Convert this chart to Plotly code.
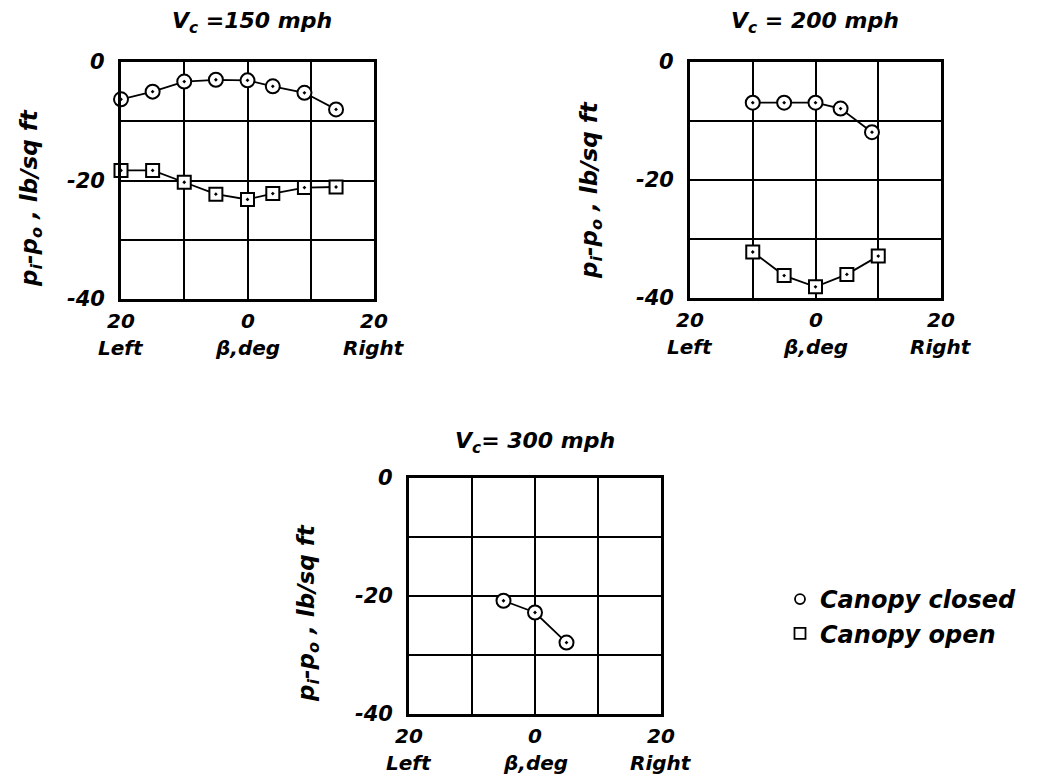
import plotly.graph_objects as go

# ---- data (beta in deg; negative = left side) ----
beta_150_closed = [-20, -15, -10, -5, 0, 4, 9, 14]
p_150_closed = [-6.3, -5.0, -3.3, -3.0, -3.1, -4.1, -5.2, -8.0]
beta_150_open = [-20, -15, -10, -5, 0, 4, 9, 14]
p_150_open = [-18.3, -18.3, -20.3, -22.3, -23.2, -22.2, -21.2, -21.1]

beta_200_closed = [-10, -5, 0, 4, 9]
p_200_closed = [-6.9, -6.9, -6.9, -7.9, -11.9]
beta_200_open = [-10, -5, 0, 5, 10]
p_200_open = [-32.2, -36.2, -38.1, -36.0, -32.9]

beta_300_closed = [-5, 0, 5]
p_300_closed = [-20.8, -22.8, -27.9]

titles = ["V<sub>c</sub> =150 mph", "V<sub>c</sub> = 200 mph", "V<sub>c</sub>= 300 mph"]
x_tickvals = [-20, 0, 20]
x_ticktext = ["20", "0", "20"]
x_subtext = ["Left", "β,deg", "Right"]
x_gridvals = [-10, 10]
y_tickvals = [0, -20, -40]
y_ticktext = ["0", "-20", "-40"]
y_gridvals = [-10, -30]
ytitle = "p<sub>i</sub>-p<sub>o</sub> , lb/sq ft"
legend_names = ["Canopy closed", "Canopy open"]

FONT = "DejaVu Sans"
# the page places the figure 8px in from the top-left corner
OFF = 8
W, H = 1056 - OFF, 778 - OFF

def fx(px):
    return (px - OFF) / W

def fy(py):
    return 1 - (py - OFF) / H

domains = [
    ([fx(121), fx(374)], [fy(299), fy(62)]),
    ([fx(690), fx(941)], [fy(298), fy(62)]),
    ([fx(409), fx(661)], [fy(714), fy(478)]),
]

fig = go.Figure()

closed_style = dict(symbol="circle-dot", size=14, color="white",
                    line=dict(color="black", width=2))
open_style = dict(symbol="square-dot", size=13, color="white",
                  line=dict(color="black", width=2))
line_style = dict(color="black", width=1.8)

series = [
    (beta_150_closed, p_150_closed, closed_style, 1),
    (beta_150_open, p_150_open, open_style, 1),
    (beta_200_closed, p_200_closed, closed_style, 2),
    (beta_200_open, p_200_open, open_style, 2),
    (beta_300_closed, p_300_closed, closed_style, 3),
]
for xs, ys, mk, k in series:
    fig.add_trace(go.Scatter(
        x=xs, y=ys, mode="lines+markers", marker=mk, line=line_style,
        xaxis="x" if k == 1 else f"x{k}", yaxis="y" if k == 1 else f"y{k}",
        showlegend=False, cliponaxis=False))

# legend-only entries
fig.add_trace(go.Scatter(x=[None], y=[None], mode="markers", name=legend_names[0],
                         marker=dict(symbol="circle-open", size=10, color="black",
                                     line=dict(width=1.8))))
fig.add_trace(go.Scatter(x=[None], y=[None], mode="markers", name=legend_names[1],
                         marker=dict(symbol="square-open", size=11, color="black",
                                     line=dict(width=1.8))))

TXT = dict(family=FONT, style="italic", weight="bold", color="black")

layout = dict(
    width=W, height=H,
    margin=dict(l=0, r=0, t=0, b=0, autoexpand=False),
    paper_bgcolor="white", plot_bgcolor="white",
    font=dict(size=20, **TXT),
    legend=dict(x=fx(780), y=fy(577), xanchor="left", yanchor="top",
                font=dict(size=24, **TXT),
                bgcolor="rgba(0,0,0,0)", itemwidth=30, tracegroupgap=0),
    showlegend=True,
)

for i, (xd, yd) in enumerate(domains, start=1):
    sx = "" if i == 1 else str(i)
    grid = dict(showgrid=True, gridcolor="black", gridwidth=2.4, zeroline=False,
                showline=True, linecolor="black", linewidth=3, mirror=True,
                ticks="", showticklabels=False, automargin=False, fixedrange=True)
    layout[f"xaxis{sx}"] = dict(
        domain=xd, range=[-20, 20], anchor=f"y{sx}", tickvals=x_tickvals,
        minor=dict(tickvals=x_gridvals, showgrid=True, gridcolor="black",
                   gridwidth=2.4, ticks=""), **grid)
    layout[f"yaxis{sx}"] = dict(
        domain=yd, range=[-40, 0], anchor=f"x{sx}", tickvals=y_tickvals,
        minor=dict(tickvals=y_gridvals, showgrid=True, gridcolor="black",
                   gridwidth=2.4, ticks=""), **grid)

fig.update_layout(**layout)

# tick labels placed through each panel's own axes
for i in range(1, 4):
    sx = "" if i == 1 else str(i)
    for v, t, s in zip(x_tickvals, x_ticktext, x_subtext):
        fig.add_annotation(text=t, x=v, xref=f"x{sx}", y=0, yref=f"y{sx} domain",
                           yanchor="top", xanchor="center", yshift=-8,
                           showarrow=False, font=dict(size=20, **TXT))
        fig.add_annotation(text=s, x=v, xref=f"x{sx}", y=0, yref=f"y{sx} domain",
                           yanchor="top", xanchor="center", yshift=-35,
                           showarrow=False, font=dict(size=20, **TXT))
    for v, t in zip(y_tickvals, y_ticktext):
        fig.add_annotation(text=t, y=v, yref=f"y{sx}", x=0, xref=f"x{sx} domain",
                           xanchor="right", yanchor="middle", xshift=-14,
                           showarrow=False, font=dict(size=21, **TXT))

title_pos = [(252, 22), (815, 22), (535, 442)]
for t, (px, py) in zip(titles, title_pos):
    fig.add_annotation(text=t, x=fx(px), y=fy(py), xref="paper", yref="paper",
                       showarrow=False, xanchor="center", yanchor="middle",
                       font=dict(size=22, **TXT))

ytitle_pos = [(31, 198), (591, 190), (308, 613)]
for px, py in ytitle_pos:
    fig.add_annotation(text=ytitle, x=fx(px), y=fy(py), xref="paper", yref="paper",
                       showarrow=False, xanchor="center", yanchor="middle",
                       textangle=-90, font=dict(size=23, **TXT))

fig.write_html("out.html")
